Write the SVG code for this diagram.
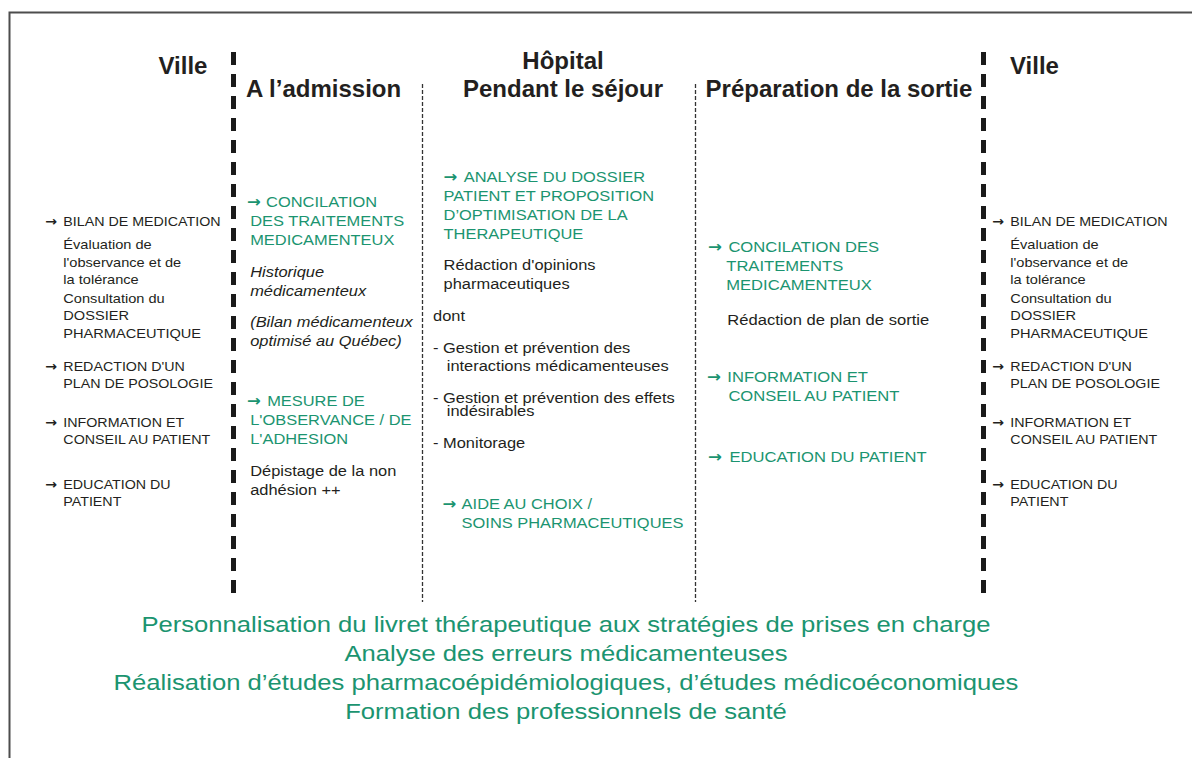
<svg xmlns="http://www.w3.org/2000/svg" width="1192" height="758" viewBox="0 0 1192 758">
<style>
text{font-family:"Liberation Sans",Arial,Helvetica,sans-serif;}
.a{font-family:"DejaVu Sans",sans-serif;font-weight:bold;}
.h{font-size:24px;font-weight:bold;fill:#231f20;}
.k{font-size:13.2px;fill:#231f20;}
.s{font-size:13.5px;fill:#231f20;}
.g{font-size:15.5px;fill:#1b9470;}
.d{font-size:15.5px;fill:#231f20;}
.i{font-style:italic;}
.b{font-size:22.5px;fill:#1b9470;text-anchor:middle;}
.m{text-anchor:middle;}
.thick{stroke:#1a1a1a;stroke-width:5;stroke-dasharray:13 9;fill:none;}
.thin{stroke:#333;stroke-width:1.3;stroke-dasharray:4 2;fill:none;}
</style>
<rect x="0" y="0" width="1192" height="758" fill="#ffffff"/>
<g id="frame" fill="none" stroke="#4d4d4d" stroke-width="2">
<path d="M9.5 758 V12.5 H1192"/>
</g>
<g id="separators">
<line class="thick" x1="233.5" y1="52" x2="233.5" y2="601"/>
<line class="thick" x1="983.5" y1="52" x2="983.5" y2="601"/>
<line class="thin" x1="422.5" y1="84" x2="422.5" y2="602"/>
<line class="thin" x1="695.5" y1="84" x2="695.5" y2="602"/>
</g>
<g id="headers">
<text class="h m" x="183" y="74">Ville</text>
<text class="h" x="246" y="97">A l’admission</text>
<text class="h m" x="563" y="69">Hôpital</text>
<text class="h m" x="563" y="97">Pendant le séjour</text>
<text class="h m" x="839" y="97">Préparation de la sortie</text>
<text class="h" x="1010" y="74">Ville</text>
</g>
<g id="ville-gauche" transform="translate(45 0) scale(1.08 1) translate(-45 0)">
<text class="k"><tspan class="a" x="45" y="226">→</tspan><tspan x="62" y="226">BILAN DE MEDICATION</tspan></text>
<text class="s"><tspan x="62" y="249">Évaluation de</tspan><tspan x="62" y="267">l'observance et de</tspan><tspan x="62" y="284">la tolérance</tspan></text>
<text class="s"><tspan x="62" y="303">Consultation du</tspan><tspan x="62" y="320">DOSSIER</tspan><tspan x="62" y="338">PHARMACEUTIQUE</tspan></text>
<text class="k"><tspan class="a" x="45" y="371">→</tspan><tspan x="62" y="371">REDACTION D'UN</tspan><tspan x="62" y="388">PLAN DE POSOLOGIE</tspan></text>
<text class="k"><tspan class="a" x="45" y="427">→</tspan><tspan x="62" y="427">INFORMATION ET</tspan><tspan x="62" y="444">CONSEIL AU PATIENT</tspan></text>
<text class="k"><tspan class="a" x="45" y="489">→</tspan><tspan x="62" y="489">EDUCATION DU</tspan><tspan x="62" y="506">PATIENT</tspan></text>
</g>
<g id="admission" transform="translate(247 0) scale(1.06 1) translate(-247 0)">
<text class="g"><tspan class="a" x="247" y="207">→</tspan><tspan x="265" y="207">CONCILATION</tspan><tspan x="250" y="226">DES TRAITEMENTS</tspan><tspan x="250" y="245">MEDICAMENTEUX</tspan></text>
<text class="d i"><tspan x="250" y="277">Historique</tspan><tspan x="250" y="296">médicamenteux</tspan></text>
<text class="d i"><tspan x="250" y="327">(Bilan médicamenteux</tspan><tspan x="250" y="346">optimisé au Québec)</tspan></text>
<text class="g"><tspan class="a" x="247" y="406">→</tspan><tspan x="266" y="406">MESURE DE</tspan><tspan x="250" y="425">L'OBSERVANCE / DE</tspan><tspan x="250" y="444">L'ADHESION</tspan></text>
<text class="d"><tspan x="250" y="476">Dépistage de la non</tspan><tspan x="250" y="495">adhésion ++</tspan></text>
</g>
<g id="sejour" transform="translate(433 0) scale(1.06 1) translate(-433 0)">
<text class="g"><tspan class="a" x="443" y="182">→</tspan><tspan x="462" y="182">ANALYSE DU DOSSIER</tspan><tspan x="443" y="201">PATIENT ET PROPOSITION</tspan><tspan x="443" y="220">D’OPTIMISATION DE LA</tspan><tspan x="443" y="239">THERAPEUTIQUE</tspan></text>
<text class="d"><tspan x="443" y="270">Rédaction d'opinions</tspan><tspan x="443" y="289">pharmaceutiques</tspan></text>
<text class="d" x="433" y="321">dont</text>
<text class="d"><tspan x="433" y="353">- Gestion et prévention des</tspan><tspan x="446" y="371">interactions médicamenteuses</tspan></text>
<text class="d"><tspan x="433" y="403">- Gestion et prévention des effets</tspan><tspan x="446" y="416">indésirables</tspan></text>
<text class="d" x="433" y="448">- Monitorage</text>
<text class="g"><tspan class="a" x="442" y="509">→</tspan><tspan x="460" y="509">AIDE AU CHOIX /</tspan><tspan x="460" y="528">SOINS PHARMACEUTIQUES</tspan></text>
</g>
<g id="sortie" transform="translate(707 0) scale(1.07 1) translate(-707 0)">
<text class="g"><tspan class="a" x="708" y="252">→</tspan><tspan x="727" y="252">CONCILATION DES</tspan><tspan x="725" y="271">TRAITEMENTS</tspan><tspan x="725" y="290">MEDICAMENTEUX</tspan></text>
<text class="d" x="726" y="325">Rédaction de plan de sortie</text>
<text class="g"><tspan class="a" x="707" y="382">→</tspan><tspan x="726" y="382">INFORMATION ET</tspan><tspan x="727" y="401">CONSEIL AU PATIENT</tspan></text>
<text class="g"><tspan class="a" x="708" y="462">→</tspan><tspan x="728" y="462">EDUCATION DU PATIENT</tspan></text>
</g>
<g id="ville-droite" transform="translate(992 0) scale(1.08 1) translate(-992 0)">
<text class="k"><tspan class="a" x="992" y="226">→</tspan><tspan x="1009" y="226">BILAN DE MEDICATION</tspan></text>
<text class="s"><tspan x="1009" y="249">Évaluation de</tspan><tspan x="1009" y="267">l'observance et de</tspan><tspan x="1009" y="284">la tolérance</tspan></text>
<text class="s"><tspan x="1009" y="303">Consultation du</tspan><tspan x="1009" y="320">DOSSIER</tspan><tspan x="1009" y="338">PHARMACEUTIQUE</tspan></text>
<text class="k"><tspan class="a" x="992" y="371">→</tspan><tspan x="1009" y="371">REDACTION D'UN</tspan><tspan x="1009" y="388">PLAN DE POSOLOGIE</tspan></text>
<text class="k"><tspan class="a" x="992" y="427">→</tspan><tspan x="1009" y="427">INFORMATION ET</tspan><tspan x="1009" y="444">CONSEIL AU PATIENT</tspan></text>
<text class="k"><tspan class="a" x="992" y="489">→</tspan><tspan x="1009" y="489">EDUCATION DU</tspan><tspan x="1009" y="506">PATIENT</tspan></text>
</g>
<g id="transversal" transform="translate(566 0) scale(1.14 1) translate(-566 0)">
<text class="b" x="566" y="632">Personnalisation du livret thérapeutique aux stratégies de prises en charge</text>
<text class="b" x="566" y="661">Analyse des erreurs médicamenteuses</text>
<text class="b" x="566" y="690">Réalisation d’études pharmacoépidémiologiques, d’études médicoéconomiques</text>
<text class="b" x="566" y="719">Formation des professionnels de santé</text>
</g>
</svg>
